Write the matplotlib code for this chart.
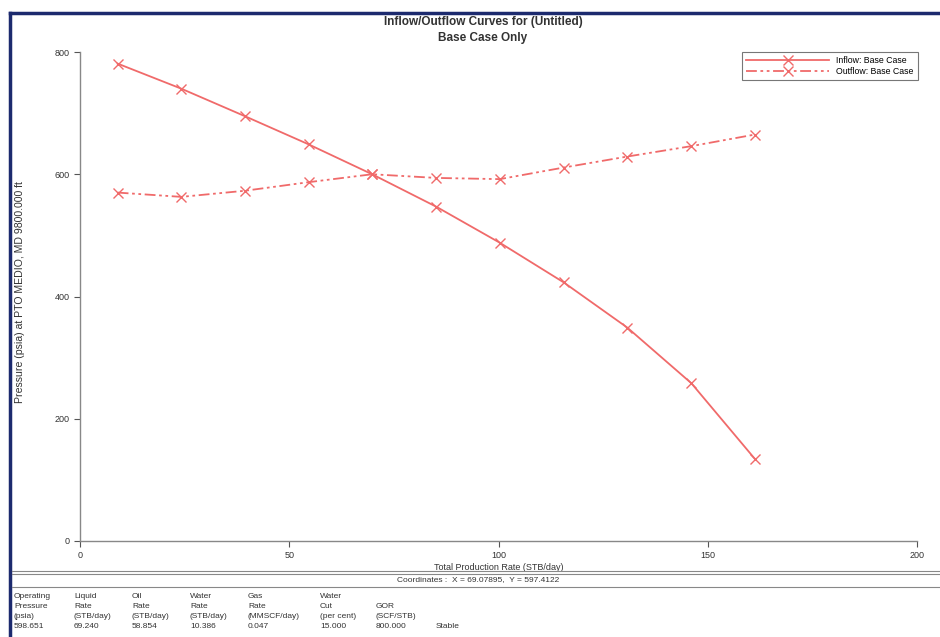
import matplotlib
matplotlib.use('Agg')
import matplotlib.pyplot as plt
from matplotlib.lines import Line2D

plt.rcParams['font.family'] = ['Liberation Sans', 'DejaVu Sans']

# data
rate = [9.0, 24.2, 39.4, 54.6, 69.8, 85.1, 100.3, 115.6, 130.8, 146.1, 161.3]
inflow = [781, 740, 695, 649, 600, 547, 488, 423, 349, 258, 134]
outflow = [570, 563, 573, 587, 600, 594, 592, 611, 629, 646, 665]

xticks = [0, 50, 100, 150, 200]
yticks = [0, 200, 400, 600, 800]

table_cols = [
    ['Operating', 'Pressure', '(psia)', '598.651'],
    ['Liquid', 'Rate', '(STB/day)', '69.240'],
    ['Oil', 'Rate', '(STB/day)', '58.854'],
    ['Water', 'Rate', '(STB/day)', '10.386'],
    ['Gas', 'Rate', '(MMSCF/day)', '0.047'],
    ['Water', 'Cut', '(per cent)', '15.000'],
    ['', 'GOR', '(SCF/STB)', '800.000'],
    ['', '', '', 'Stable'],
]
col_x = [14, 74, 132, 190, 248, 320, 376, 436]

red = '#f06a6a'
txt = '#333333'
navy = '#1c2a6e'

fig = plt.figure(figsize=(9.4, 6.37), dpi=100)
W, H = 940, 637

ax = fig.add_axes([80 / W, 1 - 541 / H, (917 - 80) / W, (541 - 52) / H])
ax.plot(rate, inflow, color=red, lw=1.3, marker='x', ms=6.5, mew=1.0,
        label='Inflow: Base Case')
ax.plot(rate, outflow, color=red, lw=1.3, marker='x', ms=6.5, mew=1.0,
        linestyle=(0, (6, 2, 1.5, 2, 1.5, 2)), label='Outflow: Base Case')

ax.set_xlim(0, 200)
ax.set_ylim(0, 800)
ax.set_xticks(xticks)
ax.set_yticks(yticks)
ax.tick_params(labelsize=6.5, colors='#555555', labelcolor=txt, length=4, width=0.8)
for s in ['top', 'right']:
    ax.spines[s].set_visible(False)
for s in ['left', 'bottom']:
    ax.spines[s].set_color('#888888')
    ax.spines[s].set_linewidth(1.0)

ax.set_xlabel('Total Production Rate (STB/day)', fontsize=6.5, color=txt, labelpad=2)
ax.set_ylabel('Pressure (psia) at PTO MEDIO, MD 9800.000 ft', fontsize=7.6, color=txt)
ax.yaxis.set_label_coords(-0.0655, 0.51)

leg = ax.legend(loc='upper right', bbox_to_anchor=(1.004, 1.006), fontsize=6.3,
                frameon=True, fancybox=False, edgecolor='#555555', handlelength=9.5,
                borderpad=0.45, labelspacing=0.25, handletextpad=0.8, borderaxespad=0.3)
leg.get_frame().set_linewidth(0.8)

fig.text(483 / W, 1 - 22 / H, 'Inflow/Outflow Curves for (Untitled)', ha='center', va='center',
         fontsize=8.5, fontweight='bold', color=txt)
fig.text(483 / W, 1 - 38 / H, 'Base Case Only', ha='center', va='center',
         fontsize=8.5, fontweight='bold', color=txt)

# frame lines
fig.add_artist(Line2D([10 / W, 1], [1 - 13 / H, 1 - 13 / H], color=navy, lw=2.5))
fig.add_artist(Line2D([10 / W, 10 / W], [0, 1 - 13 / H], color=navy, lw=2.5))
for yy in [571, 574, 587]:
    fig.add_artist(Line2D([12 / W, 1], [1 - yy / H, 1 - yy / H], color='#888888', lw=0.8))

fig.text(478 / W, 1 - 580 / H, 'Coordinates :  X = 69.07895,  Y = 597.4122', ha='center',
         va='center', fontsize=6, color=txt)

row_y = [596, 606, 616, 626]
for cx, col in zip(col_x, table_cols):
    for ry, t in zip(row_y, col):
        fig.text(cx / W, 1 - ry / H, t, ha='left', va='center', fontsize=6, color=txt)

fig.savefig('out.png', dpi=100, facecolor='white')
